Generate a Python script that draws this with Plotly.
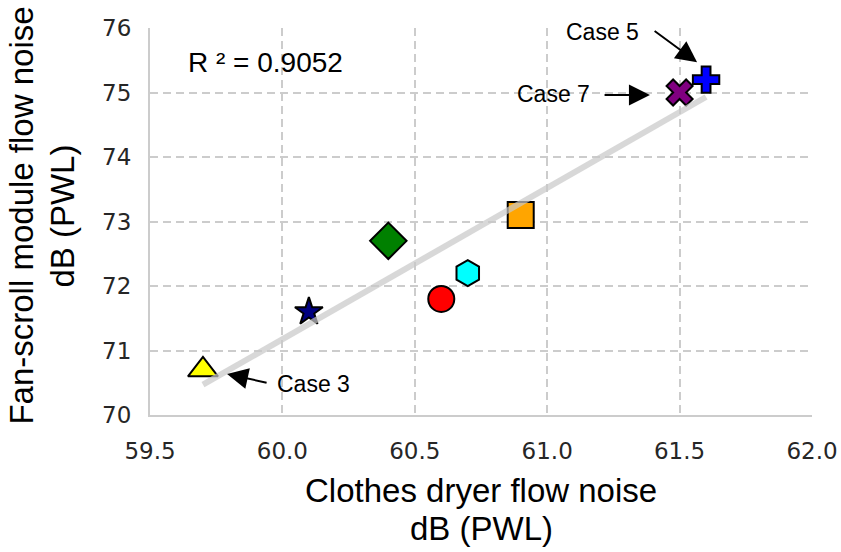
import plotly.graph_objects as go

# ---- data ----
x_vals = [59.7, 60.1, 60.4, 60.6, 60.7, 60.9, 61.5, 61.6]
y_vals = [70.7, 71.6, 72.7, 71.8, 72.2, 73.1, 75.0, 75.2]
symbols = ["triangle-up", "star", "diamond", "circle", "hexagon", "square", "x", "cross"]
colors = ["#FFFF00", "#000080", "#008000", "#FF0000", "#00FFFF", "#FFA500", "#800080", "#0000FF"]
sizes = [26, 21, 28, 26, 26, 26, 23, 22]
trend_x = [59.7, 61.6]
trend_y = [70.47, 74.93]
r_squared = 0.9052
x_ticks = [59.5, 60.0, 60.5, 61.0, 61.5, 62.0]
y_ticks = [70, 71, 72, 73, 74, 75, 76]

ARIAL = "Liberation Sans, Arial, sans-serif"

fig = go.Figure()
fig.add_trace(go.Scatter(
    x=x_vals, y=y_vals, mode="markers",
    marker=dict(symbol=symbols, color=colors, size=sizes, opacity=1,
                line=dict(color="black", width=2)),
    hoverinfo="x+y",
))
fig.add_trace(go.Scatter(
    x=trend_x, y=trend_y, mode="lines",
    line=dict(color="rgba(200,200,200,0.7)", width=6),
    hoverinfo="skip",
))

axis_common = dict(
    showgrid=True, gridcolor="#cccccc", gridwidth=1.5, griddash="8px,5px",
    showline=True, linecolor="#cccccc", linewidth=2, zeroline=False, automargin=False,
    ticks="", tickfont=dict(family="DejaVu Sans", size=23, color="#262626"),
)
fig.update_xaxes(range=[59.5, 62.0], tickvals=x_ticks,
                 ticktext=[f"{v:.1f}" for v in x_ticks],
                 ticklabelstandoff=14, **axis_common)
fig.update_yaxes(range=[70, 76], tickvals=y_ticks,
                 ticktext=[str(v) for v in y_ticks],
                 ticklabelstandoff=12, **axis_common)

arrow_style = dict(xref="x", yref="y", axref="x", ayref="y", text="", showarrow=True,
                   arrowhead=2, arrowsize=2.1, arrowwidth=2, arrowcolor="black",
                   standoff=0, startstandoff=0)
label_font = dict(family=ARIAL, size=23, color="black")
title_font = dict(family=ARIAL, size=33, color="black")

annotations = [
    # R^2 text
    dict(x=59.938, y=75.47, xref="x", yref="y", text=f"R ² = {r_squared:.4f}",
         showarrow=False, font=dict(family=ARIAL, size=28, color="black"),
         xanchor="center", yanchor="middle"),
    # case labels
    dict(x=61.207, y=75.94, xref="x", yref="y", text="Case 5", showarrow=False,
         font=label_font, xanchor="center", yanchor="middle"),
    dict(x=61.022, y=74.98, xref="x", yref="y", text="Case 7", showarrow=False,
         font=label_font, xanchor="center", yanchor="middle"),
    dict(x=60.116, y=70.48, xref="x", yref="y", text="Case 3", showarrow=False,
         font=label_font, xanchor="center", yanchor="middle"),
    # arrows
    dict(x=61.566, y=75.47, ax=61.40, ay=75.97, **arrow_style),
    dict(x=61.388, y=74.96, ax=61.211, ay=74.96, **arrow_style),
    dict(x=59.791, y=70.636, ax=59.946, ay=70.496, **arrow_style),
    # axis titles
    dict(x=0.5, y=-0.195, xref="paper", yref="paper", text="Clothes dryer flow noise",
         showarrow=False, font=title_font, xanchor="center", yanchor="middle"),
    dict(x=0.5, y=-0.2933, xref="paper", yref="paper", text="dB (PWL)",
         showarrow=False, font=title_font, xanchor="center", yanchor="middle"),
    dict(x=-0.1941, y=0.514, xref="paper", yref="paper", text="Fan-scroll module flow noise",
         showarrow=False, textangle=-90, font=title_font, xanchor="center", yanchor="middle"),
    dict(x=-0.1322, y=0.514, xref="paper", yref="paper", text="dB (PWL)",
         showarrow=False, textangle=-90, font=title_font, xanchor="center", yanchor="middle"),
]

fig.update_layout(
    width=841, height=552,
    margin=dict(l=150, r=29, t=28, b=137),
    plot_bgcolor="white", paper_bgcolor="white",
    showlegend=False,
    annotations=annotations,
)

fig.write_html("out.html", config={"displayModeBar": False},
               post_script="document.body.style.margin='0';document.body.style.overflow='hidden';")
